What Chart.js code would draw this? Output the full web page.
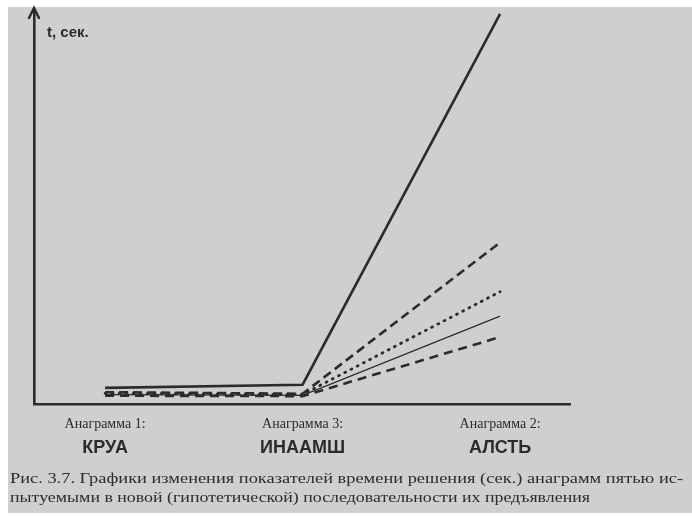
<!DOCTYPE html>
<html>
<head>
<meta charset="utf-8">
<script src="https://cdn.jsdelivr.net/npm/chart.js@4/dist/chart.umd.min.js"></script>
<style>
  html, body { margin: 0; padding: 0; background: #ffffff; }
  #wrap { width: 692px; height: 517px; position: relative; }
</style>
</head>
<body>
<div id="wrap"><canvas id="chart" width="692" height="517"></canvas></div>
<script>
// anagrams in the (hypothetical) presentation order
const anagramTitles = ['Анаграмма 1:', 'Анаграмма 3:', 'Анаграмма 2:'];
const anagramWords = ['КРУА', 'ИНААМШ', 'АЛСТЬ'];
const anagramPos = [0, 1, 2];

// solution time per subject (relative units)
const subject1 = [4.1, 4.9, 99];    // thick solid
const subject2 = [3.0, 2.6, 41];    // long dashes
const subject3 = [2.7, 2.4, 28.5];  // dots
const subject4 = [2.4, 2.2, 22.3];  // thin solid
const subject5 = [2.1, 2.0, 17];    // short dashes

const yLabel = 't, сек.';
const caption = [
    'Рис. 3.7. Графики изменения показателей времени решения (сек.) анаграмм пятью ис-',
    'пытуемыми в новой (гипотетической) последовательности их предъявления'
];

const ink = '#2b2b2b';

function toPoints(values) {
    return anagramPos.map((x, i) => ({ x: x, y: values[i] }));
}

function fitText(ctx, text, x, y, width) {
    const w = ctx.measureText(text).width;
    ctx.save();
    ctx.translate(x, y);
    ctx.scale(width / w, 1);
    ctx.fillText(text, 0, 0);
    ctx.restore();
}

const paperPlugin = {
    id: 'paper',
    beforeDraw(chart) {
        const ctx = chart.ctx;
        ctx.save();
        ctx.fillStyle = '#ffffff';
        ctx.fillRect(0, 0, chart.width, chart.height);
        ctx.fillStyle = '#cfcfcf';
        ctx.fillRect(8, 7, chart.width - 8, chart.height - 11);
        ctx.restore();
    },
    afterDraw(chart) {
        const ctx = chart.ctx;
        const xs = chart.scales.x;
        const area = chart.chartArea;
        ctx.save();
        ctx.fillStyle = ink;
        ctx.strokeStyle = ink;

        // arrow head on the time axis
        ctx.lineWidth = 2.5;
        ctx.lineCap = 'round';
        ctx.beginPath();
        ctx.moveTo(area.left - 5, area.top + 8);
        ctx.lineTo(area.left, area.top - 2);
        ctx.lineTo(area.left + 5, area.top + 8);
        ctx.stroke();

        ctx.font = 'bold 15px "Liberation Sans Narrow", "Liberation Sans"';
        ctx.textBaseline = 'alphabetic';
        ctx.textAlign = 'left';
        ctx.fillText(yLabel, area.left + 13, area.top + 27);

        // category labels under the axis
        ctx.textAlign = 'center';
        anagramPos.forEach((v, i) => {
            const px = xs.getPixelForValue(v);
            ctx.font = '14px "Liberation Serif"';
            ctx.fillText(anagramTitles[i], px, area.bottom + 24);
            ctx.font = 'bold 18px "Liberation Sans"';
            ctx.fillText(anagramWords[i], px, area.bottom + 49);
        });

        // figure caption
        ctx.textAlign = 'left';
        ctx.font = '14px "Liberation Serif"';
        fitText(ctx, caption[0], 10, area.bottom + 79, 673);
        fitText(ctx, caption[1], 10, area.bottom + 98, 580);
        ctx.restore();
    }
};

new Chart(document.getElementById('chart'), {
    type: 'line',
    data: {
        datasets: [
            { data: toPoints(subject1), borderWidth: 2.6 },
            { data: toPoints(subject2), borderWidth: 2.6, borderDash: [9, 5] },
            { data: toPoints(subject3), borderWidth: 2.8, borderDash: [1, 6], borderCapStyle: 'round' },
            { data: toPoints(subject4), borderWidth: 1.3 },
            { data: toPoints(subject5), borderWidth: 2.6, borderDash: [9, 6] }
        ].map(d => Object.assign({
            borderColor: ink,
            pointRadius: 0,
            tension: 0,
            fill: false
        }, d))
    },
    options: {
        responsive: false,
        animation: false,
        events: [],
        layout: { padding: { left: 26, top: 10, right: 122, bottom: 105 } },
        plugins: {
            legend: { display: false },
            tooltip: { enabled: false },
            title: { display: false }
        },
        scales: {
            x: {
                type: 'linear',
                min: -0.36,
                max: 2.354,
                ticks: { display: false },
                grid: { display: false },
                border: { display: true, color: ink, width: 2.6 }
            },
            y: {
                min: 0,
                max: 100,
                ticks: { display: false },
                grid: { display: false },
                border: { display: true, color: ink, width: 2.6 }
            }
        }
    },
    plugins: [paperPlugin]
});
</script>
</body>
</html>
